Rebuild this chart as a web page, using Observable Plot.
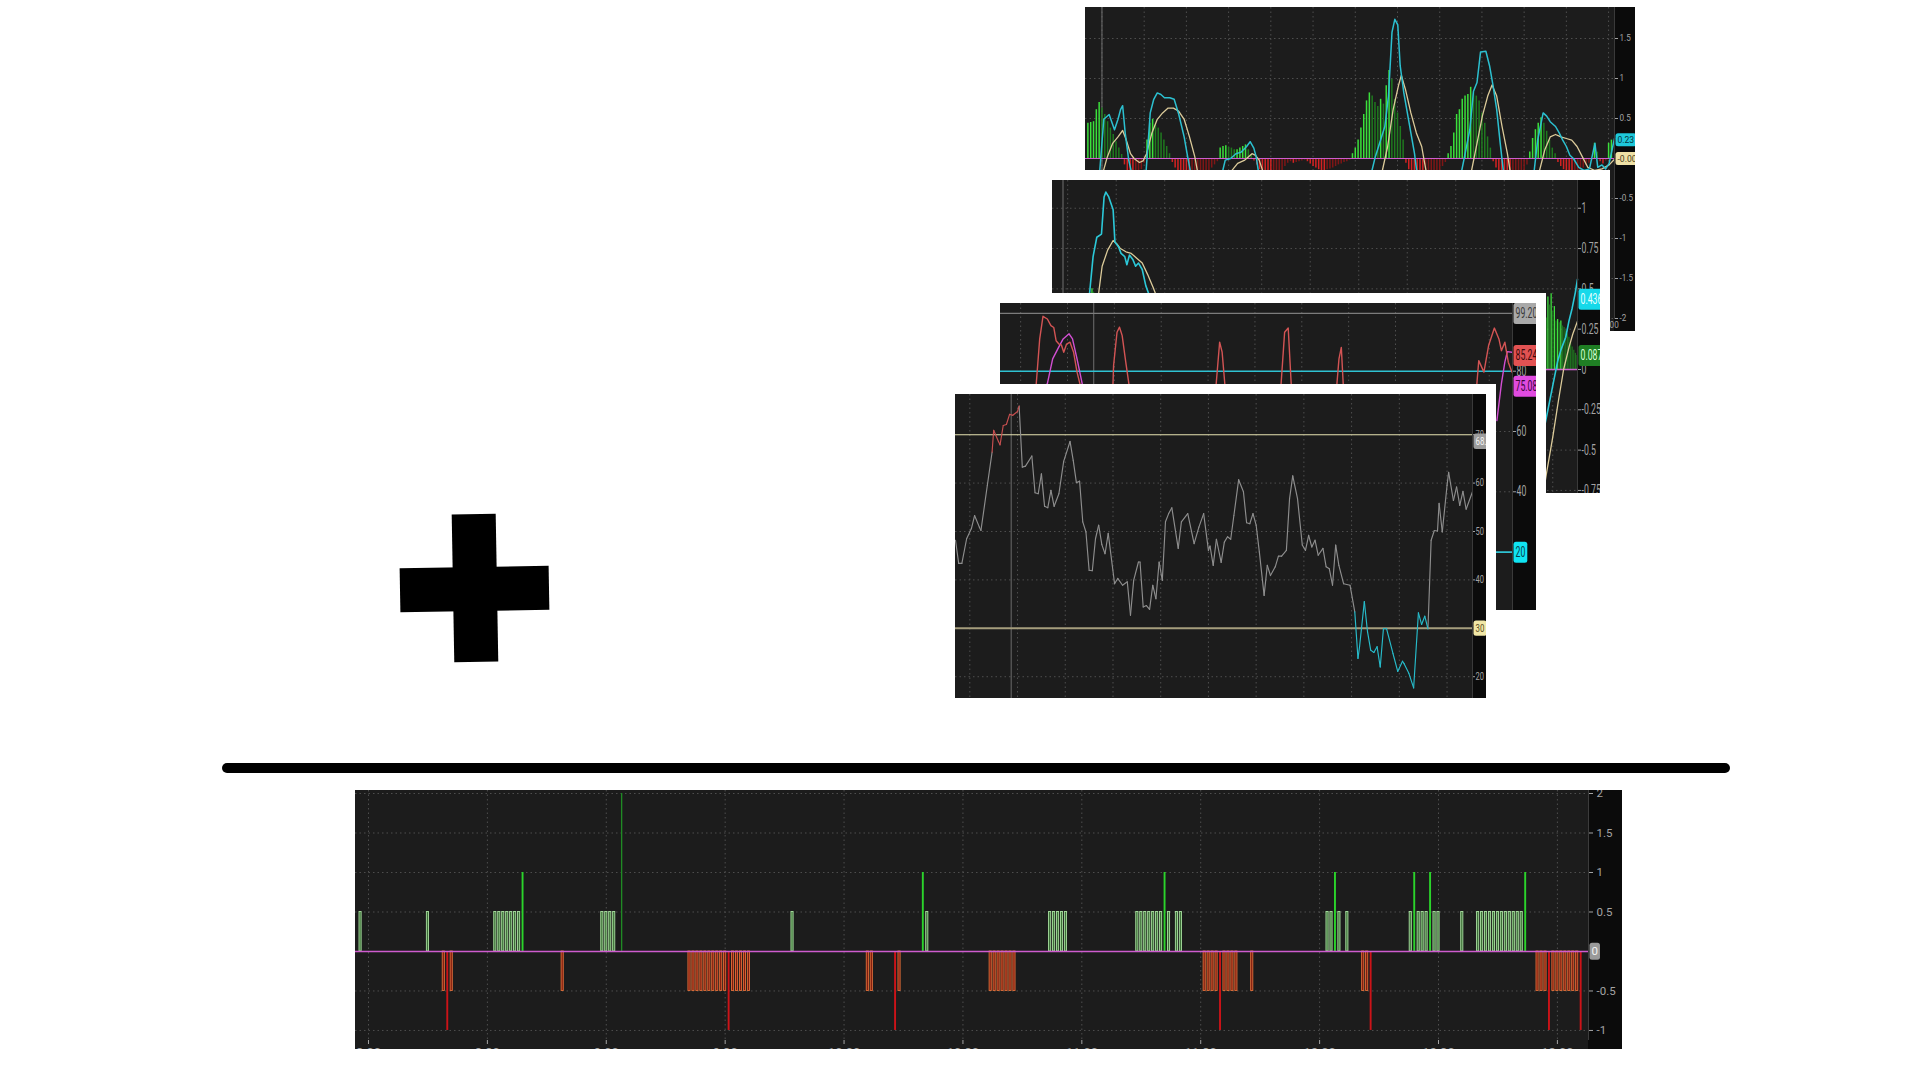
<!DOCTYPE html>
<html><head><meta charset="utf-8">
<script src="https://cdn.jsdelivr.net/npm/d3@7"></script>
<script src="https://cdn.jsdelivr.net/npm/@observablehq/plot@0.6"></script>
<style>
html,body{margin:0;padding:0;background:#fff;}
body{width:1920px;height:1080px;position:relative;overflow:hidden;}
.panel{position:absolute;overflow:hidden;}
.panel svg{display:block;max-width:none;}
.framed{box-shadow:0 0 0 10px #fff;}
.plus-bar{position:absolute;background:#000;}
#divider{position:absolute;background:#000;border-radius:5px;}
</style></head><body>
<div id="plus" style="position:absolute;left:400px;top:514px;width:150px;height:150px;transform:rotate(-1deg)">
  <div class="plus-bar" style="left:53px;top:0;width:44px;height:148px"></div>
  <div class="plus-bar" style="left:0;top:53px;width:149px;height:44px"></div>
</div>
<div id="divider" style="left:222px;top:763px;width:1508px;height:10px"></div>
<script>
// ====================== DATA ======================
// ---- Bottom chart: signal histogram, minutes after 8:00 -> signal value (zero bars omitted)
const bSignalBars = [
  [-2,0.5],[15,0.5],[19,-0.5],[20,-1],[21,-0.5],
  [32,0.5],[33,0.5],[34,0.5],[35,0.5],[36,0.5],[37,0.5],[38,0.5],[39,1],
  [49,-0.5],[59,0.5],[60,0.5],[61,0.5],[62,0.5],[64,2],
  [81,-0.5],[82,-0.5],[83,-0.5],[84,-0.5],[85,-0.5],[86,-0.5],[87,-0.5],[88,-0.5],[89,-0.5],[90,-0.5],
  [91,-1],[92,-0.5],[93,-0.5],[94,-0.5],[95,-0.5],[96,-0.5],
  [107,0.5],[126,-0.5],[127,-0.5],[133,-1],[134,-0.5],[140,1],[141,0.5],
  [157,-0.5],[158,-0.5],[159,-0.5],[160,-0.5],[161,-0.5],[162,-0.5],[163,-0.5],
  [172,0.5],[173,0.5],[174,0.5],[175,0.5],[176,0.5],
  [194,0.5],[195,0.5],[196,0.5],[197,0.5],[198,0.5],[199,0.5],[200,0.5],[201,1],[202,0.5],[204,0.5],[205,0.5],
  [211,-0.5],[212,-0.5],[213,-0.5],[214,-0.5],[215,-1],[216,-0.5],[217,-0.5],[218,-0.5],[219,-0.5],[223,-0.5],
  [242,0.5],[243,0.5],[244,1],[245,0.5],[247,0.5],
  [251,-0.5],[252,-0.5],[253,-1],
  [263,0.5],[264,1],[265,0.5],[266,0.5],[267,0.5],[268,1],[269,0.5],[270,0.5],[276,0.5],
  [280,0.5],[281,0.5],[282,0.5],[283,0.5],[284,0.5],[285,0.5],[286,0.5],[287,0.5],[288,0.5],[289,0.5],[290,0.5],[291,0.5],[292,1],
  [295,-0.5],[296,-0.5],[297,-0.5],[298,-1],[299,-0.5],[300,-0.5],[301,-0.5],[302,-0.5],[303,-0.5],[304,-0.5],[305,-0.5],[306,-1]
];
const bTimeTicks = [0,30,60,90,120,150,180,210,240,270,300];
const bTimeLabels = ["8:00","8:30","9:00","9:30","10:00","10:30","11:00","11:30","12:00","12:30","13:00"];
const bValueTicks = [2,1.5,1,0.5,-0.5,-1];

// ---- Panel 1 (back): histogram every 2 minutes starting at minute -10, plus two lines (visible segments)
const p1HistStart = -10;
const p1HistValues = [
  0.44,0.45,0.46,0.61,0.70,0.63,0.55,0.46,0.38,0.30,0.21,0.13,0.05,
  -0.08,-0.15,-0.22,-0.26,-0.24,-0.2,-0.14,-0.06,
  0.23,0.44,0.49,0.42,0.38,0.32,0.23,0.15,0.06,
  -0.05,-0.12,-0.2,-0.28,-0.34,-0.38,-0.4,-0.37,-0.33,-0.3,-0.27,-0.22,-0.2,-0.16,-0.12,-0.08,-0.04,
  0.13,0.15,0.16,0.14,0.13,0.11,0.11,0.13,0.15,0.17,0.11,0.05,
  -0.03,-0.08,-0.14,-0.2,-0.25,-0.3,-0.32,-0.3,-0.26,-0.2,-0.15,-0.1,-0.06,-0.04,-0.06,-0.05,-0.04,-0.03,-0.02,-0.04,-0.07,-0.1,-0.12,-0.14,-0.15,-0.16,-0.14,-0.13,-0.12,-0.1,-0.08,-0.07,-0.05,-0.04,-0.02,
  0.06,0.13,0.23,0.38,0.55,0.72,0.82,0.78,0.70,0.65,0.74,0.68,0.91,1.10,0.99,0.74,0.57,0.40,0.23,
  -0.06,-0.14,-0.22,-0.3,-0.36,-0.4,-0.42,-0.4,-0.36,-0.32,-0.27,-0.22,-0.16,-0.1,-0.05,
  0.06,0.15,0.32,0.55,0.61,0.74,0.78,0.80,0.89,0.82,0.78,0.72,0.57,0.44,0.27,0.13,
  -0.04,-0.12,-0.2,-0.28,-0.34,-0.38,-0.4,-0.38,-0.34,-0.28,-0.22,-0.15,-0.08,
  0.08,0.25,0.36,0.44,0.51,0.44,0.34,0.23,0.13,0.06,
  -0.05,-0.1,-0.14,-0.18,-0.2,-0.22,-0.2,-0.18,-0.15,-0.12,-0.09,-0.06,-0.03,
  0.19,0.08,-0.04,-0.07,-0.03,0.19,0.23
];
const p1Fast = [
  [[-2,-0.25],[1.3,0.49],[5.1,0.55],[8.9,0.36],[11.4,0.49],[13.2,0.61],[14.7,0.66],[16.5,0.32],[19,-0.02],[21.6,-0.22]],
  [[31,-0.25],[34.3,0.57],[36.8,0.74],[39.3,0.82],[41.9,0.80],[44.4,0.76],[48.2,0.76],[51.3,0.74],[54.6,0.55],[58.4,0.27],[60.9,0.02],[63.5,-0.22]],
  [[84.5,-0.25],[87.6,-0.02],[91.4,0],[95.2,0.06],[99,0.08],[102.8,0.15],[105.3,0.21],[107.9,0.13],[109.6,0.02],[111.7,-0.22]],
  [[190.5,-0.25],[194.2,0.02],[198,0.23],[201,0.40],[203.6,0.78],[206.1,1.58],[208.1,1.74],[210.2,1.67],[211.9,1.16],[214.5,0.82],[217,0.57],[219.5,0.32],[222.1,0.06],[224.3,-0.25]],
  [[254.5,-0.25],[257.6,0.02],[261.4,0.36],[264,0.84],[266.5,0.95],[269,1.33],[272.8,1.34],[275.4,1.16],[277.9,0.91],[280.5,0.61],[283,0.19],[285.8,-0.25]],
  [[306.5,-0.25],[309.6,0.23],[313.5,0.57],[316,0.53],[318.5,0.46],[322.3,0.40],[324.9,0.32],[327.4,0.23],[330,0.15],[332.5,0.04],[335,0],[338.8,-0.11],[342.6,-0.15],[346.4,-0.13],[350.3,0.19],[352.3,-0.11],[355.3,-0.08],[357.9,-0.13],[360.4,-0.06],[364.2,0.25]]
];
const p1Slow = [
  [[0,-0.22],[3.8,0.02],[7.6,0.19],[11.4,0.27],[14.7,0.35],[17.3,0.23],[20.3,0.06],[22.8,0],[26.6,-0.05],[29.2,-0.03],[31.7,0.06],[35.5,0.32],[39.3,0.49],[43.1,0.57],[47,0.63],[50.8,0.63],[54.6,0.59],[58.4,0.49],[62.2,0.27],[66,0.02],[68.5,-0.22]],
  [[89.5,-0.25],[91.4,-0.17],[96.4,-0.06],[101.5,-0.02],[106.6,0.06],[109.1,0.04],[111.7,-0.02],[115.5,-0.22]],
  [[198,-0.25],[203,0.15],[206.9,0.61],[210.7,0.91],[212.7,1.04],[215.7,0.86],[219.5,0.57],[223.4,0.32],[227.2,0.15],[228.9,-0.02],[231,-0.22]],
  [[261.5,-0.25],[266.5,0.19],[270.3,0.53],[274.1,0.78],[277.2,0.92],[280.5,0.78],[284.3,0.40],[288.1,0.06],[290.6,-0.22]],
  [[309.5,-0.25],[314.7,0.11],[318.5,0.27],[322.3,0.30],[326.1,0.27],[330,0.25],[333.8,0.23],[337.6,0.15],[341.4,0.02],[345.2,-0.11],[350.3,-0.15],[355.3,-0.13],[360.4,-0.08],[364.2,-0.01]]
];
const p1ValueTicks = [1.5,1,0.5,0,-0.5,-1,-1.5,-2];
const p1TimeTicks = [0,30,60,90,120,150,180,210,240,270,300,330,360];
const p1TimeLabels = ["7:00","7:30","8:00","8:30","9:00","9:30","10:00","10:30","11:00","11:30","12:00","12:30","13:00"];
const p1Cursor = 0;

// ---- Panel 2
const p2Hist = [[13,0.35],[14,0.46],[15,0.5],[16,0.48],[17,0.44],[18,0.38],
  [296,0.32],[297,0.45],[298,0.40],[299,0.47],[300,0.36],[301,0.39],[302,0.30],[303,0.31],[304,0.29],[305,0.30],
  [306,0.27],[307,0.26],[308,0.24],[309,0.22],[310,0.20],[311,0.17],[312,0.14],[313,0.12],[314,0.10],[315,0.087]];
const p2Fast = [
  [[11.5,0.35],[13.5,0.47],[15.7,0.70],[18,0.82],[20.9,0.84],[22.5,1.07],[23.6,1.10],[25.4,1.07],[28.1,0.99],[29.2,0.79],[31.5,0.76],[33,0.72],[35.3,0.70],[36.6,0.65],[38.2,0.71],[40.4,0.68],[42,0.64],[43.8,0.66],[46.1,0.62],[48.3,0.52],[50.1,0.47],[52.5,0.38]],
  [[295,-0.35],[297,-0.25],[300,-0.1],[303,0.05],[305,0.12],[308,0.2],[310,0.3],[312,0.38],[314,0.48],[315.3,0.56]]
];
const p2Slow = [
  [[17.5,0.38],[19.1,0.47],[21.3,0.64],[24.7,0.74],[28.1,0.80],[30.3,0.78],[32.6,0.75],[36,0.73],[39.3,0.72],[42.7,0.69],[46.1,0.66],[49.4,0.59],[52.8,0.51],[55.1,0.45],[57,0.38]],
  [[294,-0.78],[296,-0.65],[300,-0.42],[303.4,-0.2],[306.7,0],[310.1,0.14],[312.4,0.22],[315.3,0.30]]
];
const p2ValueTicks = [1,0.75,0.5,0.25,0,-0.25,-0.5,-0.75];
const p2Cursor = -2.9;

// ---- Panel 3 (stochastic-like, only the visible spikes)
const p3K = [
  [[9.2,74],[10,75.9],[12.2,90.7],[14.3,98.2],[17.1,97.3],[19.4,95.1],[21.2,94.5],[22.7,90.1],[24.5,89.0],[26.1,88.7],[27.6,86.3],[29.4,89],[31.6,89.6],[33.9,86.3],[36.1,79.7],[38.8,74]],
  [[59,74],[59.5,81.9],[61.7,92.9],[63.3,94.6],[65,91.8],[67.3,83],[69.8,74]],
  [[124.9,74],[127.4,89.6],[129,86.3],[131,74]],
  [[166.5,74],[169,92.9],[171.3,94.3],[173.4,74]],
  [[202.2,74],[203.8,84.1],[205.3,87.9],[206.7,74]],
  [[291.8,74],[293.3,83.5],[296.6,79.7],[299.6,88.5],[303.3,94.3],[306.2,90.7],[307.8,86.8],[310,89.6],[312.2,83],[314.5,79.7]]
];
const p3D = [
  [[15.5,74],[17.1,75.9],[20.5,84.1],[23.8,87.4],[27.2,90.7],[31,92.4],[33.2,90.7],[36.1,84.1],[39.4,75.9],[40,74]],
  [[304.9,63.6],[307.8,75.9],[310,83],[311.6,86.5],[314.5,86.3]]
];
const p3ValueTicks = [80,60,40];
const p3Levels = {top: 99.2, upper: 80, lower: 20};
const p3Cursor = 46.8;

// ---- Panel 4 (RSI-like, front)
const p4Minute = [0,2,4,7,10,12,15,16,20,23,24,27,28,30,32,34,36,39,40,42,44,48,50,52,54,56,58,60,62,65,68,72,74,76,78,80,82,84,86,88,90,92,94,96,100,102,105,108,110,112,115,116,118,120,122,124,126,128,130,132,134,136,140,142,146,150,153,156,159,160,162,164,167,169,171,173,175,178,181,183,185,187,189,191,194,196,198,201,203,205,208,210,212,215,218,220,222,224,226,228,231,233,235,237,239,241,244,248,251,253,254,257,259,261,263,265,267,269,271,275,278,281,282,285,288,291,293,295,297,299,301,303,304,306,309,310,313,315,317,319,321,325];
const p4Value = [48.2,43.4,43.4,48.5,50.6,53.3,50.9,50.2,59.5,66.4,70.9,68.6,67.9,71.9,72.1,74.2,74.0,74.8,75.9,63.3,63.5,65.6,58.0,57.8,61.9,55.2,54.9,58.5,55.2,57.8,64.5,68.6,64.7,60.1,60.4,52.0,49.9,42.0,41.9,48.5,51.3,47.3,45.4,49.6,39.2,40.3,38.9,39.6,32.7,39.9,43.7,43.7,34.4,34.7,33.9,38.9,36.1,43.7,39.9,52.0,53.7,54.9,46.5,52.0,53.7,47.5,50.9,53.7,46.1,47.0,43.0,48.4,43.6,47.8,48.9,48.4,53.3,60.7,58.2,51.8,51.6,53.7,51.3,45.8,36.8,43.0,40.9,42.7,44.9,44.9,46.1,56.8,61.5,56.8,47.2,46.1,49.2,46.8,48.2,45.1,46.5,42.7,42.3,38.9,47.2,43.0,39.2,38.9,33.4,23.8,26.2,35.5,29.3,25.5,25.0,26.2,22.0,29.9,29.9,24.8,21.1,23.2,22.7,20.7,17.7,33.2,30.8,32.5,29.9,48.2,50.2,50.1,55.8,49.9,59.5,62.2,56.4,59.2,55.4,58.3,54.6,58.2];
const p4Overbought = [[23,40]];
const p4Oversold = [[251,297]];
const p4Levels = {upper: 70, lower: 30};
const p4ValueTicks = [70,60,50,40,20];
const p4GridTicks = [9,39,69,99,129,159,189,219,249,279,309];
const p4Cursor = 35;

// ====================== RENDERING ======================
const FONT = "Roboto,'DejaVu Sans',sans-serif";
const BG = "#1c1c1c", AXIS_BG = "#0b0b0b", TICK = "#a4a4a4";
const GRID = {stroke: "#4e4e4e", strokeDasharray: "1.5,3", strokeWidth: 1};
const ZERO = "#cf5ccf";
const range30 = (a, b) => d3.range(a, b + 1, 30);
const flat = segs => segs.flatMap((s, k) => s.map(([m, v]) => ({m, v, k})));
const fmt = d => String(d);

function badge(v, label, bg, fg, fs) {
  return Plot.text([{v, label}], {y: "v", text: "label", frameAnchor: "right", dx: 3, textAnchor: "start",
    fill: fg, stroke: bg, strokeWidth: 3, fontSize: fs, ariaDescription: "badge"});
}

// narrow every text of a panel horizontally, keeping its anchor (screenshot fonts are condensed)
function condense(svg, k) {
  if (k >= 1) return;
  svg.querySelectorAll("text").forEach(t => {
    const L = t.getComputedTextLength();
    if (L > 0) { t.setAttribute("textLength", (L * k).toFixed(2)); t.setAttribute("lengthAdjust", "spacingAndGlyphs"); }
  });
}

// turn badge texts into boxed labels like the trading-platform price tags
function badgeBoxes(svg, pad) {
  const groups = new Set([...svg.querySelectorAll('g[aria-description="badge"]'), ...svg.querySelectorAll('g[paint-order="stroke"]')]);
  groups.forEach(g => {
    const bg = g.getAttribute("stroke");
    if (!bg || !g.querySelector("text")) return;
    g.removeAttribute("stroke");
    g.removeAttribute("stroke-width");
    g.removeAttribute("paint-order");
    g.querySelectorAll("text").forEach(t => {
      t.removeAttribute("stroke");
      const b = t.getBBox();
      const r = document.createElementNS("http://www.w3.org/2000/svg", "rect");
      r.setAttribute("x", b.x - 2);
      r.setAttribute("y", b.y - pad);
      r.setAttribute("width", b.width + 4);
      r.setAttribute("height", b.height + 2 * pad);
      r.setAttribute("rx", 2.5);
      r.setAttribute("fill", bg);
      r.setAttribute("stroke", "none");
      const tr = t.getAttribute("transform");
      if (tr) r.setAttribute("transform", tr);
      t.parentNode.insertBefore(r, t);
    });
  });
}

function mount(g, x, y, marks) {
  const div = document.createElement("div");
  div.className = "panel" + (g.framed ? " framed" : "");
  const pr = g.width - g.axisW;
  Object.assign(div.style, {
    left: g.left + "px", top: g.top + "px", width: g.width + "px", height: g.height + "px",
    background: `linear-gradient(to right, ${BG} 0px, ${BG} ${pr}px, ${AXIS_BG} ${pr}px)`
  });
  document.body.appendChild(div);
  const svg = Plot.plot({
    width: g.width, height: g.svgH || g.height,
    marginLeft: 0, marginRight: g.axisW, marginTop: 0, marginBottom: g.mb || 0,
    style: {background: "transparent", color: TICK, fontFamily: FONT, fontSize: g.fs + "px", overflow: "visible"},
    x, y, marks
  });
  div.appendChild(svg);
  if (g.xfs) svg.querySelectorAll('[aria-label^="x-axis"] text').forEach(t => t.style.fontSize = g.xfs + "px");
  condense(svg, g.squeeze || 1);
  badgeBoxes(svg, g.pad || 0.5);
}

function histColors(list) {
  // bright when the bar grows in magnitude compared with the previous bar
  return list.map((d, i) => {
    const prev = i ? list[i - 1].v : 0;
    const grow = d.v >= 0 ? d.v >= prev : d.v <= prev;
    return {...d, kind: (d.v >= 0 ? "g" : "r") + (grow ? "1" : "0")};
  });
}

// ---------- Panel 1 ----------
{
  const xd = [-11.7, 364.2], yd = [-2.0125, 1.8875];
  const hist = histColors(p1HistValues.map((v, i) => ({m: p1HistStart + 2 * i, v})));
  const col = {g1: "#3be03b", g0: "#1f7a1f", r1: "#d42222", r0: "#7e1616"};
  mount({left: 1085, top: 7, width: 550, height: 324, axisW: 21, mb: 12, fs: 9, squeeze: 0.9, pad: 1},
    {domain: xd, ticks: p1TimeTicks, tickFormat: d => p1TimeLabels[p1TimeTicks.indexOf(d)], tickSize: 0, tickPadding: 2, label: null},
    {domain: yd, axis: "right", ticks: p1ValueTicks.filter(d => d !== 0), tickFormat: fmt, tickSize: 3, tickPadding: 2, label: null},
    [
      Plot.ruleY(p1ValueTicks.filter(d => d !== 0), GRID),
      Plot.ruleX(p1TimeTicks, GRID),
      Plot.ruleX([p1Cursor], {stroke: "#707070", strokeWidth: 1}),
      ...Object.keys(col).map(k => Plot.ruleX(hist.filter(d => d.kind === k), {x: "m", y1: 0, y2: "v", stroke: col[k], strokeWidth: 1.5})),
      Plot.ruleY([0], {stroke: ZERO, strokeWidth: 1.2}),
      Plot.line(flat(p1Slow), {x: "m", y: "v", z: "k", stroke: "#dccb9a", strokeWidth: 1.3}),
      Plot.line(flat(p1Fast), {x: "m", y: "v", z: "k", stroke: "#2cc0d0", strokeWidth: 1.5}),
      Plot.ruleX([xd[1]], {stroke: "#3a3a3a"}),
      badge(0.23, "0.23", "#1ec8da", "#06343a", 9.5),
      badge(-0.006, "-0.006", "#efe1a6", "#4a4020", 9.5)
    ]);
}

// ---------- Panel 2 ----------
{
  const xd = [-9.4, 315.3], yd = [-0.769, 1.172];
  const hist = histColors(p2Hist.map(([m, v]) => ({m, v})));
  const col = {g1: "#3fe03f", g0: "#1f6f1f", r1: "#d42222", r0: "#7e1616"};
  mount({left: 1052, top: 180, width: 548, height: 313, axisW: 23, fs: 14.5, squeeze: 0.6, pad: 2, framed: true},
    {domain: xd, axis: null},
    {domain: yd, axis: "right", ticks: p2ValueTicks, tickFormat: fmt, tickSize: 3, tickPadding: 1, label: null},
    [
      Plot.ruleY(p2ValueTicks.filter(d => d !== 0), GRID),
      Plot.ruleX(range30(0, 300), GRID),
      Plot.ruleX([p2Cursor], {stroke: "#707070", strokeWidth: 1}),
      ...Object.keys(col).map(k => Plot.ruleX(hist.filter(d => d.kind === k), {x: "m", y1: 0, y2: "v", stroke: col[k], strokeWidth: 1.3})),
      Plot.ruleY([0], {stroke: ZERO, strokeWidth: 1.3}),
      Plot.line(flat(p2Slow), {x: "m", y: "v", z: "k", stroke: "#dccb9a", strokeWidth: 1.3}),
      Plot.line(flat(p2Fast), {x: "m", y: "v", z: "k", stroke: "#2cc8d8", strokeWidth: 1.6}),
      Plot.ruleX([xd[1]], {stroke: "#3a3a3a"}),
      badge(0.436, "0.436", "#16d9ea", "#e8ffff", 14.5),
      badge(0.087, "0.087", "#1f7f24", "#d8ffd8", 14.5)
    ]);
}

// ---------- Panel 3 ----------
{
  const xd = [-12.9, 314.9], yd = [0.63, 102.45];
  mount({left: 1000, top: 303, width: 536, height: 307, axisW: 24, fs: 14.5, squeeze: 0.6, pad: 2, framed: true},
    {domain: xd, axis: null},
    {domain: yd, axis: "right", ticks: p3ValueTicks, tickFormat: fmt, tickSize: 3, tickPadding: 1, label: null},
    [
      Plot.ruleY([60, 40], GRID),
      Plot.ruleX(range30(0, 300), GRID),
      Plot.ruleX([p3Cursor], {stroke: "#707070", strokeWidth: 1}),
      Plot.ruleY([p3Levels.top], {stroke: "#7c7c7c", strokeWidth: 1.2}),
      Plot.ruleY([p3Levels.upper, p3Levels.lower], {stroke: "#2fc2d2", strokeWidth: 1.6}),
      Plot.line(flat(p3D), {x: "m", y: "v", z: "k", stroke: "#d24fd2", strokeWidth: 1.4}),
      Plot.line(flat(p3K), {x: "m", y: "v", z: "k", stroke: "#d35454", strokeWidth: 1.4}),
      Plot.ruleX([xd[1]], {stroke: "#3a3a3a"}),
      badge(99.2, "99.20", "#a9a9a9", "#3a3a3a", 14.5),
      badge(85.24, "85.24", "#e25252", "#3a0a0a", 14.5),
      badge(75.08, "75.08", "#e04be0", "#3a063a", 14.5),
      badge(20, "20", "#10e4f2", "#07404a", 14.5)
    ]);
}

// ---------- Panel 4 ----------
{
  const xd = [0, 325], yd = [15.5, 78.3];
  const pts = p4Minute.map((m, i) => ({m, v: p4Value[i]}));
  const inZone = (zones, m) => zones.some(([a, b]) => m >= a && m <= b);
  const segs = d3.pairs(pts).map(([a, b]) => ({a, b,
    kind: inZone(p4Overbought, a.m) && inZone(p4Overbought, b.m) ? "ob"
        : inZone(p4Oversold, a.m) && inZone(p4Oversold, b.m) ? "os" : "n"}));
  const link = (kind, stroke) => Plot.link(segs.filter(s => s.kind === kind),
    {x1: s => s.a.m, y1: s => s.a.v, x2: s => s.b.m, y2: s => s.b.v, stroke, strokeWidth: 1.15, strokeLinecap: "round"});
  mount({left: 955, top: 394, width: 531, height: 304, axisW: 14, fs: 10, squeeze: 0.75, pad: 1.2, framed: true},
    {domain: xd, axis: null},
    {domain: yd, axis: "right", ticks: p4ValueTicks, tickFormat: fmt, tickSize: 2, tickPadding: 1, label: null},
    [
      Plot.ruleY([60, 50, 40, 20], GRID),
      Plot.ruleX(p4GridTicks, GRID),
      Plot.ruleX([p4Cursor], {stroke: "#6c6c6c", strokeWidth: 1}),
      Plot.ruleY([p4Levels.upper], {stroke: "#e6e2b0", strokeWidth: 1.1}),
      Plot.ruleY([p4Levels.lower], {stroke: "#a59d7c", strokeWidth: 2}),
      link("n", "#8e8e8e"),
      link("ob", "#c85050"),
      link("os", "#27bccb"),
      Plot.ruleX([xd[1]], {stroke: "#3a3a3a"}),
      badge(68.6, "68.62", "#9c9c9c", "#f4f4f4", 10.5),
      badge(30, "30", "#f1e7a6", "#5a4e20", 10.5)
    ]);
}

// ---------- Bottom chart ----------
{
  const xd = [-3.28, 307.85], yd = [-1.127, 2.038];
  const bars = bSignalBars.map(([m, v]) => ({m, v}));
  const sel = v => bars.filter(d => d.v === v);
  mount({left: 355, top: 790, width: 1267, height: 259, svgH: 280, mb: 30, axisW: 34, fs: 11.5, xfs: 13, pad: 1.5},
    {domain: xd, ticks: bTimeTicks, tickFormat: d => bTimeLabels[bTimeTicks.indexOf(d)], tickSize: 4, tickPadding: 3, label: null},
    {domain: yd, axis: "right", ticks: bValueTicks, tickFormat: fmt, tickSize: 4, tickPadding: 4, label: null},
    [
      Plot.ruleY(bValueTicks, GRID),
      Plot.ruleX(bTimeTicks, GRID),
      Plot.rect(sel(0.5), {x1: d => d.m - 0.27, x2: d => d.m + 0.27, y1: 0, y2: "v", fill: "#3c6f37", stroke: "#a9e0a0", strokeWidth: 0.9}),
      Plot.rect(sel(-0.5), {x1: d => d.m - 0.27, x2: d => d.m + 0.27, y1: 0, y2: "v", fill: "#7e1a0e", stroke: "#e2703a", strokeWidth: 0.9}),
      Plot.rect(sel(-1), {x1: d => d.m - 0.24, x2: d => d.m + 0.24, y1: 0, y2: "v", fill: "#cc1318"}),
      Plot.rect(sel(1), {x1: d => d.m - 0.24, x2: d => d.m + 0.24, y1: 0, y2: "v", fill: "#2bd42b"}),
      Plot.rect(sel(2), {x1: d => d.m - 0.17, x2: d => d.m + 0.17, y1: 0, y2: "v", fill: "#1f8a24"}),
      Plot.ruleY([0], {stroke: ZERO, strokeWidth: 1.3}),
      Plot.ruleX([xd[1]], {stroke: "#3c3c3c"}),
      badge(0, "0", "#9a9a9a", "#f2f2f2", 11.5)
    ]);
}
</script>
</body></html>
